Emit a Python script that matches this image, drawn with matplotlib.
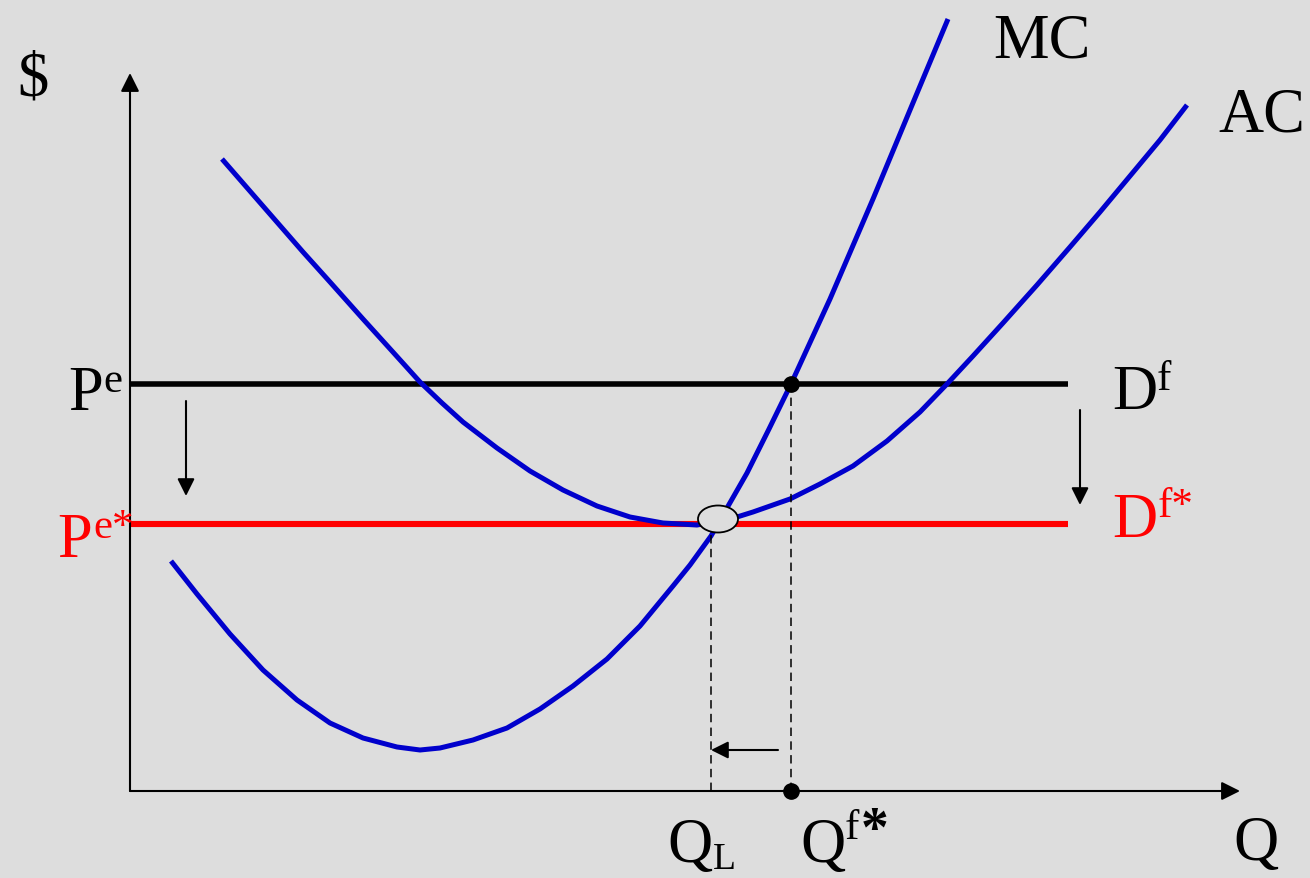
import matplotlib
matplotlib.use("Agg")
import matplotlib.pyplot as plt
from matplotlib.patches import Ellipse

# Marginal cost curve (quantity, price)
mc_q = [41, 67, 100, 133, 167, 200, 233, 267, 290, 310, 343, 377, 410, 443, 477,
        510, 543, 560, 581, 617, 639, 661, 700, 743, 780, 818]
mc_p = [230, 197, 157, 121, 91, 68, 53, 44, 41, 43, 51, 63, 82, 105, 132,
        165, 205, 226, 255, 318, 362, 407, 492, 592, 681, 772]

# Average cost curve
ac_q = [92, 119, 146, 173, 200, 233, 262, 290, 312, 333, 367, 400, 433, 467, 500,
        533, 567, 607, 623, 660, 690, 723, 757, 790, 817, 843, 873, 907, 940, 970,
        1000, 1030, 1057]
ac_p = [632, 601, 570, 539, 509, 472, 440, 409, 388, 369, 343, 320, 301, 285, 274,
        268, 266, 274, 279, 292, 307, 325, 350, 379, 407, 435, 468, 506, 544, 579,
        615, 651, 686]

# Price levels and quantities
p_e = 407
p_e_star = 267
q_f_star = 661
q_l = 581
d_end = 938

BLUE = "#0000CC"
RED = "#FF0000"
BG = "#DDDDDD"
SERIF = ["Liberation Serif", "DejaVu Serif"]

fig = plt.figure(figsize=(13.1, 8.79), dpi=100, facecolor=BG)
ax = fig.add_axes([0, 0, 1, 1])
ax.set_facecolor(BG)
ax.set_xlim(-130, 1180)
ax.set_ylim(-87, 792)
ax.axis("off")

# axes with arrow heads
arrow_kw = dict(arrowstyle="-|>", mutation_scale=28, lw=1.5, color="black",
                shrinkA=0, shrinkB=0)
ax.annotate("", xy=(0, 718), xytext=(0, 0), arrowprops=arrow_kw)
ax.annotate("", xy=(1110, 0), xytext=(0, 0), arrowprops=arrow_kw)

# demand lines
ax.plot([0, d_end], [p_e, p_e], color="black", lw=4, solid_capstyle="butt")
ax.plot([0, d_end], [p_e_star, p_e_star], color=RED, lw=4.4, solid_capstyle="butt")

# cost curves
ax.plot(mc_q, mc_p, color=BLUE, lw=3.6, solid_capstyle="butt", solid_joinstyle="round")
ax.plot(ac_q, ac_p, color=BLUE, lw=3.6, solid_capstyle="butt", solid_joinstyle="round")

# dashed drop lines
ax.plot([q_f_star, q_f_star], [0, p_e], color="black", lw=1.1, dashes=(5.5, 3.5))
ax.plot([q_l, q_l], [0, 257], color="black", lw=1.1, dashes=(5.5, 3.5))

# points
ax.plot([q_f_star, q_f_star], [p_e, 0], "o", color="black", ms=11, zorder=5)
ax.add_patch(Ellipse((588, 272), 40, 27, facecolor=BG, edgecolor="black", lw=1.3, zorder=6))

# shift arrows
small_kw = dict(arrowstyle="-|>", mutation_scale=26, lw=1.5, color="black",
                shrinkA=0, shrinkB=0)
ax.annotate("", xy=(56, 295), xytext=(56, 390), arrowprops=small_kw)
ax.annotate("", xy=(950, 286), xytext=(950, 381), arrowprops=small_kw)
ax.annotate("", xy=(581, 41), xytext=(648, 41), arrowprops=small_kw)

big = 45
sup = 31


def label(x, y, s, size=big, color="black", **kw):
    ax.text(x, y, s, fontsize=size, color=color, family=SERIF,
            ha="left", va="baseline", **kw)


label(-113, 696, "$")
label(863, 735, "MC")
label(1088, 660, "AC")
label(1103, -68, "Q")

label(-62, 382, "P")
label(-27, 400, "e", size=sup)
label(-73, 235, "P", color=RED)
label(-37, 254, "e*", size=sup, color=RED)

label(982, 383, "D")
label(1027, 402, "f", size=sup)
label(982, 255, "D", color=RED)
label(1028, 275, "f*", size=sup, color=RED)

label(537, -70, "Q")
label(583, -77, "L", size=27)
label(670, -70, "Q")
label(715, -47, "f", size=sup)
label(731, -54, "*", size=40, weight="bold")

fig.savefig("out.png", dpi=100, facecolor=BG)
